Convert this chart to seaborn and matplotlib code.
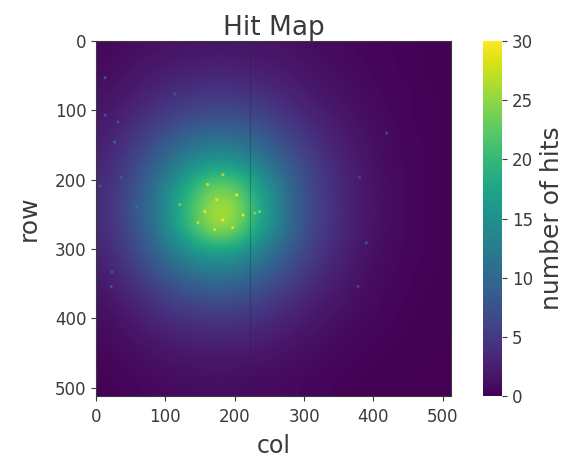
#!/usr/bin/env python3
import numpy as np
import seaborn as sns
import matplotlib
matplotlib.use("Agg")
import matplotlib.pyplot as plt

# hit counts, one row per ~20 pixels of the sensor
row_010 = [.6, .8, 1, 1.2, 1.4, 1.6, 1.7, 1.8, 1.8, 1.8, 1.8, 1.7, 1.6, 1.5, 1.3, 1.1, .9, .8, .6, .5, .4, .3, .3, .2, .2, .2]
row_030 = [.8, 1, 1.3, 1.6, 1.8, 2, 2.2, 2.3, 2.4, 2.4, 2.3, 2.2, 2.1, 1.9, 1.6, 1.4, 1.1, .9, .7, .6, .5, .4, .3, .3, .2, .2]
row_049 = [1, 1.3, 1.6, 2, 2.3, 2.7, 2.9, 3.1, 3.2, 3.2, 3.1, 2.9, 2.7, 2.4, 2, 1.7, 1.4, 1.1, .9, .7, .5, .4, .3, .3, .2, .2]
row_069 = [1.3, 1.6, 2, 2.5, 3, 3.5, 3.8, 4.1, 4.3, 4.3, 4.1, 3.8, 3.5, 3, 2.6, 2.1, 1.7, 1.4, 1.1, .8, .6, .5, .4, .3, .2, .2]
row_089 = [1.6, 2, 2.6, 3.2, 3.9, 4.5, 5, 5.4, 5.6, 5.6, 5.4, 5, 4.5, 3.9, 3.2, 2.6, 2.1, 1.7, 1.3, 1, .7, .5, .4, .3, .3, .2]
row_108 = [1.9, 2.5, 3.2, 4, 4.9, 5.7, 6.5, 7, 7.3, 7.3, 7, 6.5, 5.7, 4.9, 4, 3.3, 2.6, 2, 1.6, 1.2, .8, .6, .4, .3, .3, .2]
row_128 = [2.2, 3, 3.9, 5, 6.1, 7.2, 8.3, 9, 9.4, 9.4, 9, 8.3, 7.3, 6.2, 5, 4, 3.1, 2.4, 1.9, 1.4, 1, .7, .5, .3, .3, .2]
row_148 = [2.7, 3.5, 4.7, 6, 7.5, 9, 10.4, 11.4, 12, 12, 11.4, 10.4, 9, 7.6, 6.1, 4.8, 3.7, 2.8, 2.2, 1.6, 1.1, .8, .5, .4, .3, .2]
row_167 = [3, 4, 5.4, 7, 8.9, 10.8, 12.6, 14, 14.8, 14.8, 14, 12.6, 10.8, 9, 7.2, 5.6, 4.3, 3.2, 2.4, 1.8, 1.2, .8, .5, .4, .3, .2]
row_187 = [3.3, 4.5, 6, 8, 10.2, 12.6, 15, 17, 18.5, 18.5, 17.5, 15.5, 13, 10.3, 8.2, 6.3, 4.8, 3.6, 2.6, 1.9, 1.3, .9, .6, .4, .3, .2]
row_207 = [3.6, 4.9, 6.6, 8.8, 11.4, 14.6, 17.6, 20.4, 22.5, 22.5, 21, 18, 15, 12, 8.9, 6.8, 5.1, 3.8, 2.8, 2, 1.4, .9, .6, .4, .3, .2]
row_226 = [3.8, 5.1, 7, 9.3, 12, 15.8, 19, 22, 24.5, 25, 23, 19.5, 16, 12.6, 9.2, 7, 5.3, 3.9, 2.9, 2, 1.4, 1, .6, .4, .3, .2]
row_246 = [3.8, 5.2, 7.1, 9.5, 12.3, 16.2, 19.6, 23, 26, 26.5, 24, 20, 16.4, 13, 9.4, 7.2, 5.4, 4, 2.9, 2.1, 1.4, 1, .6, .4, .3, .2]
row_266 = [3.7, 5.1, 7, 9.2, 12, 15.8, 19, 22.4, 25, 25.5, 23, 19.5, 16, 12.6, 9.2, 7, 5.2, 3.9, 2.8, 2, 1.4, .9, .6, .4, .3, .2]
row_286 = [3.4, 4.7, 6.4, 8.5, 11, 14.2, 17, 19.6, 21.5, 21.5, 20, 17, 14, 11.2, 8.5, 6.5, 4.9, 3.6, 2.6, 1.9, 1.3, .9, .6, .4, .3, .2]
row_305 = [3, 4.2, 5.7, 7.6, 9.7, 11.9, 14, 15.8, 16.6, 16.6, 15.6, 13.8, 11.7, 9.6, 7.6, 5.9, 4.4, 3.3, 2.4, 1.7, 1.2, .8, .5, .4, .3, .2]
row_325 = [2.6, 3.6, 4.9, 6.5, 8.2, 10, 11.6, 12.8, 13.4, 13.4, 12.7, 11.4, 9.8, 8.1, 6.5, 5, 3.8, 2.8, 2.1, 1.5, 1, .7, .5, .3, .3, .2]
row_345 = [2.1, 3, 4, 5.3, 6.7, 8, 9.2, 10, 10.5, 10.5, 10, 9.1, 7.9, 6.6, 5.3, 4.2, 3.2, 2.4, 1.8, 1.3, .9, .6, .4, .3, .2, .2]
row_364 = [1.7, 2.4, 3.2, 4.2, 5.3, 6.3, 7.1, 7.7, 8, 8, 7.7, 7, 6.2, 5.2, 4.2, 3.3, 2.6, 2, 1.5, 1.1, .7, .5, .4, .3, .2, .2]
row_384 = [1.3, 1.9, 2.5, 3.3, 4.1, 4.8, 5.4, 5.8, 6, 6, 5.8, 5.3, 4.7, 4, 3.3, 2.6, 2, 1.6, 1.2, .9, .6, .4, .3, .2, .2, .2]
row_404 = [1, 1.4, 1.9, 2.5, 3.1, 3.6, 4, 4.3, 4.5, 4.5, 4.3, 4, 3.6, 3, 2.5, 2, 1.6, 1.2, .9, .7, .5, .4, .3, .2, .2, .2]
row_423 = [.8, 1.1, 1.5, 1.9, 2.3, 2.7, 3, 3.2, 3.3, 3.3, 3.2, 3, 2.6, 2.3, 1.9, 1.5, 1.2, .9, .7, .5, .4, .3, .2, .2, .2, .1]
row_443 = [.6, .8, 1.1, 1.4, 1.7, 2, 2.2, 2.3, 2.4, 2.4, 2.3, 2.2, 2, 1.7, 1.4, 1.2, .9, .7, .5, .4, .3, .2, .2, .2, .1, .1]
row_463 = [.4, .6, .8, 1, 1.3, 1.5, 1.6, 1.7, 1.8, 1.8, 1.7, 1.6, 1.4, 1.2, 1, .9, .7, .5, .4, .3, .2, .2, .2, .1, .1, .1]
row_483 = [.3, .4, .6, .8, .9, 1.1, 1.2, 1.3, 1.3, 1.3, 1.2, 1.1, 1, .9, .8, .6, .5, .4, .3, .2, .2, .2, .1, .1, .1, .1]
row_502 = [.2, .3, .4, .6, .7, .8, .9, .9, 1, 1, .9, .8, .8, .7, .6, .5, .4, .3, .2, .2, .1, .1, .1, .1, .1, .1]

# single noisy pixels that stand out from the background
hot_cols = [13, 32, 13, 27, 59, 37, 114, 6, 23, 22, 419, 380, 390, 378,
            161, 183, 203, 174, 157, 183, 212, 197, 171, 147, 121, 236, 229]
hot_rows = [53, 117, 107, 146, 239, 197, 76, 209, 333, 354, 133, 197, 291, 354,
            207, 193, 222, 229, 246, 258, 251, 269, 272, 262, 236, 246, 248]
hot_hits = [7, 8, 8, 10, 12, 9, 8, 8, 8, 8, 6, 6, 7, 6,
            27, 26, 29, 29, 29, 30, 29, 28, 28, 27, 23, 24, 24]

# the column with almost no hits
dead_col = 222

n_pixels = 512
ticks = [0, 100, 200, 300, 400, 500]
cbar_ticks = [0, 5, 10, 15, 20, 25, 30]

hits = np.array([row_010, row_030, row_049, row_069, row_089, row_108, row_128,
                 row_148, row_167, row_187, row_207, row_226, row_246, row_266,
                 row_286, row_305, row_325, row_345, row_364, row_384, row_404,
                 row_423, row_443, row_463, row_483, row_502])
n_cells = hits.shape[0]
scale = n_cells / n_pixels

fig = plt.figure(figsize=(5.64, 4.57), dpi=100)
ax = fig.add_axes([96 / 564, 1 - 396 / 457, 355 / 564, 355 / 457])
cax = fig.add_axes([483 / 564, 1 - 396 / 457, 19 / 564, 355 / 457])

sns.heatmap(hits, ax=ax, cbar_ax=cax, cmap="viridis", vmin=0, vmax=30,
            xticklabels=False, yticklabels=False)

# same cells again, smoothed, because the grid is much coarser than the sensor
ax.imshow(hits, extent=(0, n_cells, n_cells, 0), cmap="viridis", vmin=0, vmax=30,
          interpolation="bicubic", aspect="auto", zorder=1.5)
ax.set_xlim(0, n_cells)
ax.set_ylim(n_cells, 0)

ax.scatter(np.array(hot_cols) * scale, np.array(hot_rows) * scale, c=hot_hits,
           cmap="viridis", vmin=0, vmax=30, s=5, linewidths=0, zorder=3)
ax.axvline(dead_col * scale, color="#0b2a3a", lw=0.8, alpha=0.3, zorder=3)

text_color = "#3a3a3a"
ax.set_xticks(np.array(ticks) * scale, labels=ticks)
ax.set_yticks(np.array(ticks) * scale, labels=ticks)
ax.tick_params(axis="both", labelsize=12, colors=text_color, rotation=0)
ax.tick_params(axis="x", pad=5)
ax.set_title("Hit Map", fontsize=19, color=text_color, pad=3)
ax.set_xlabel("col", fontsize=17, color=text_color, labelpad=6)
ax.set_ylabel("row", fontsize=18, color=text_color, labelpad=10)
for side in ax.spines.values():
    side.set_visible(True)
    side.set_color(text_color)

cbar = ax.collections[0].colorbar
cbar.set_ticks(cbar_ticks)
cbar.ax.tick_params(labelsize=12, colors=text_color)
cbar.set_label("number of hits", fontsize=18, color=text_color, labelpad=5)
cbar.outline.set_visible(True)
cbar.outline.set_edgecolor(text_color)

fig.savefig("out.png", dpi=100)
